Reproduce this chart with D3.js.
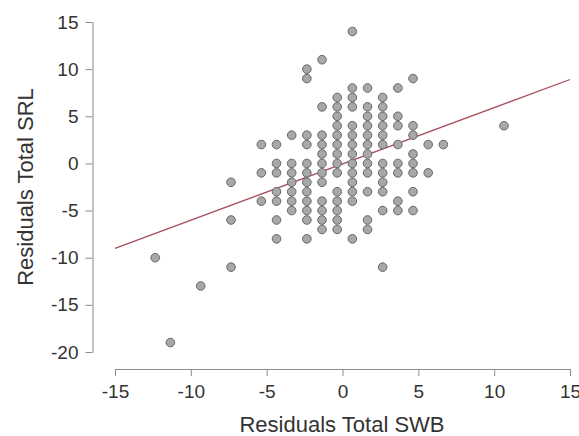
<!DOCTYPE html>
<html>
<head>
<meta charset="utf-8">
<script src="https://cdn.jsdelivr.net/npm/d3@7"></script>
<style>
  body { margin: 0; background: #fff; }
  text { font-family: "Liberation Sans", Arial, sans-serif; fill: #333; }
</style>
</head>
<body>
<div id="chart"></div>
<script>
// SWB residual columns (x) and the SRL residuals stacked in each column (y)
const swbColumns = [-12.35, -11.35, -9.35, -7.35, -5.35, -4.35, -3.35, -2.35, -1.35, -0.35,
  0.65, 1.65, 2.65, 3.65, 4.65, 5.65, 6.65, 10.65];
const srlByColumn = [
  [-10],
  [-19],
  [-13],
  [-2, -6, -11],
  [2, -1, -4],
  [2, 0, -1, -3, -4, -6, -8],
  [3, 0, -1, -2, -3, -4, -5],
  [10, 9, 3, 2, 0, -1, -2, -3, -4, -5, -6, -8],
  [11, 6, 3, 2, 1, 0, -1, -2, -4, -5, -6, -7],
  [7, 6, 5, 4, 3, 2, 1, 0, -1, -3, -4, -5, -6, -7],
  [14, 8, 7, 6, 4, 3, 2, 1, 0, -1, -2, -3, -4, -8],
  [8, 6, 5, 4, 3, 2, 1, 0, -1, -3, -6, -7],
  [7, 6, 5, 4, 3, 2, 0, -1, -2, -3, -5, -11],
  [8, 5, 4, 2, 0, -1, -4, -5],
  [9, 4, 3, 1, 0, -1, -3, -5],
  [2, -1],
  [2],
  [4]
];
const xTicks = [-15, -10, -5, 0, 5, 10, 15];
const yTicks = [-20, -15, -10, -5, 0, 5, 10, 15];
// fitted line end points
const fitX = [-15, 15];
const fitY = [-9, 8.9];

const width = 579, height = 436;

const points = [];
swbColumns.forEach((xv, i) => {
  srlByColumn[i].forEach(yv => points.push({ x: xv, y: yv }));
});

const x = d3.scaleLinear().domain([-15, 15]).range([115, 570]);
const y = d3.scaleLinear().domain([-20, 15]).range([352, 22]);

const svg = d3.select("#chart")
  .append("svg")
  .attr("width", width)
  .attr("height", height);

// plain hyphen for negatives, like the original
const fmt = d => String(d);

// x axis, offset below the data
const gx = svg.append("g")
  .attr("transform", "translate(0,369)")
  .call(d3.axisBottom(x).tickValues(xTicks).tickFormat(fmt).tickSize(7).tickSizeOuter(0).tickPadding(9));
gx.select(".domain").attr("stroke", "#8c8c8c");
gx.selectAll(".tick line").attr("stroke", "#8c8c8c");
gx.selectAll(".tick text").attr("font-size", 19).attr("fill", "#3a3a3a");

// y axis, offset to the left
const gy = svg.append("g")
  .attr("transform", "translate(92.5,0)")
  .call(d3.axisLeft(y).tickValues(yTicks).tickFormat(fmt).tickSize(7).tickSizeOuter(0).tickPadding(7));
gy.select(".domain").attr("stroke", "#8c8c8c");
gy.selectAll(".tick line").attr("stroke", "#8c8c8c");
gy.selectAll(".tick text").attr("font-size", 19).attr("fill", "#3a3a3a");

svg.append("text")
  .attr("x", 342)
  .attr("y", 432)
  .attr("text-anchor", "middle")
  .attr("font-size", 22)
  .text("Residuals Total SWB");

svg.append("text")
  .attr("transform", "translate(33,187) rotate(-90)")
  .attr("text-anchor", "middle")
  .attr("font-size", 22)
  .text("Residuals Total SRL");

// regression line
svg.append("line")
  .attr("x1", x(fitX[0]))
  .attr("y1", y(fitY[0]))
  .attr("x2", x(fitX[1]))
  .attr("y2", y(fitY[1]))
  .attr("stroke", "#a8505c")
  .attr("stroke-width", 1.3);

svg.selectAll("circle")
  .data(points)
  .enter()
  .append("circle")
  .attr("cx", d => x(d.x))
  .attr("cy", d => y(d.y))
  .attr("r", 4.3)
  .attr("fill", "#a8a8a8")
  .attr("stroke", "#666")
  .attr("stroke-width", 1);
</script>
</body>
</html>
